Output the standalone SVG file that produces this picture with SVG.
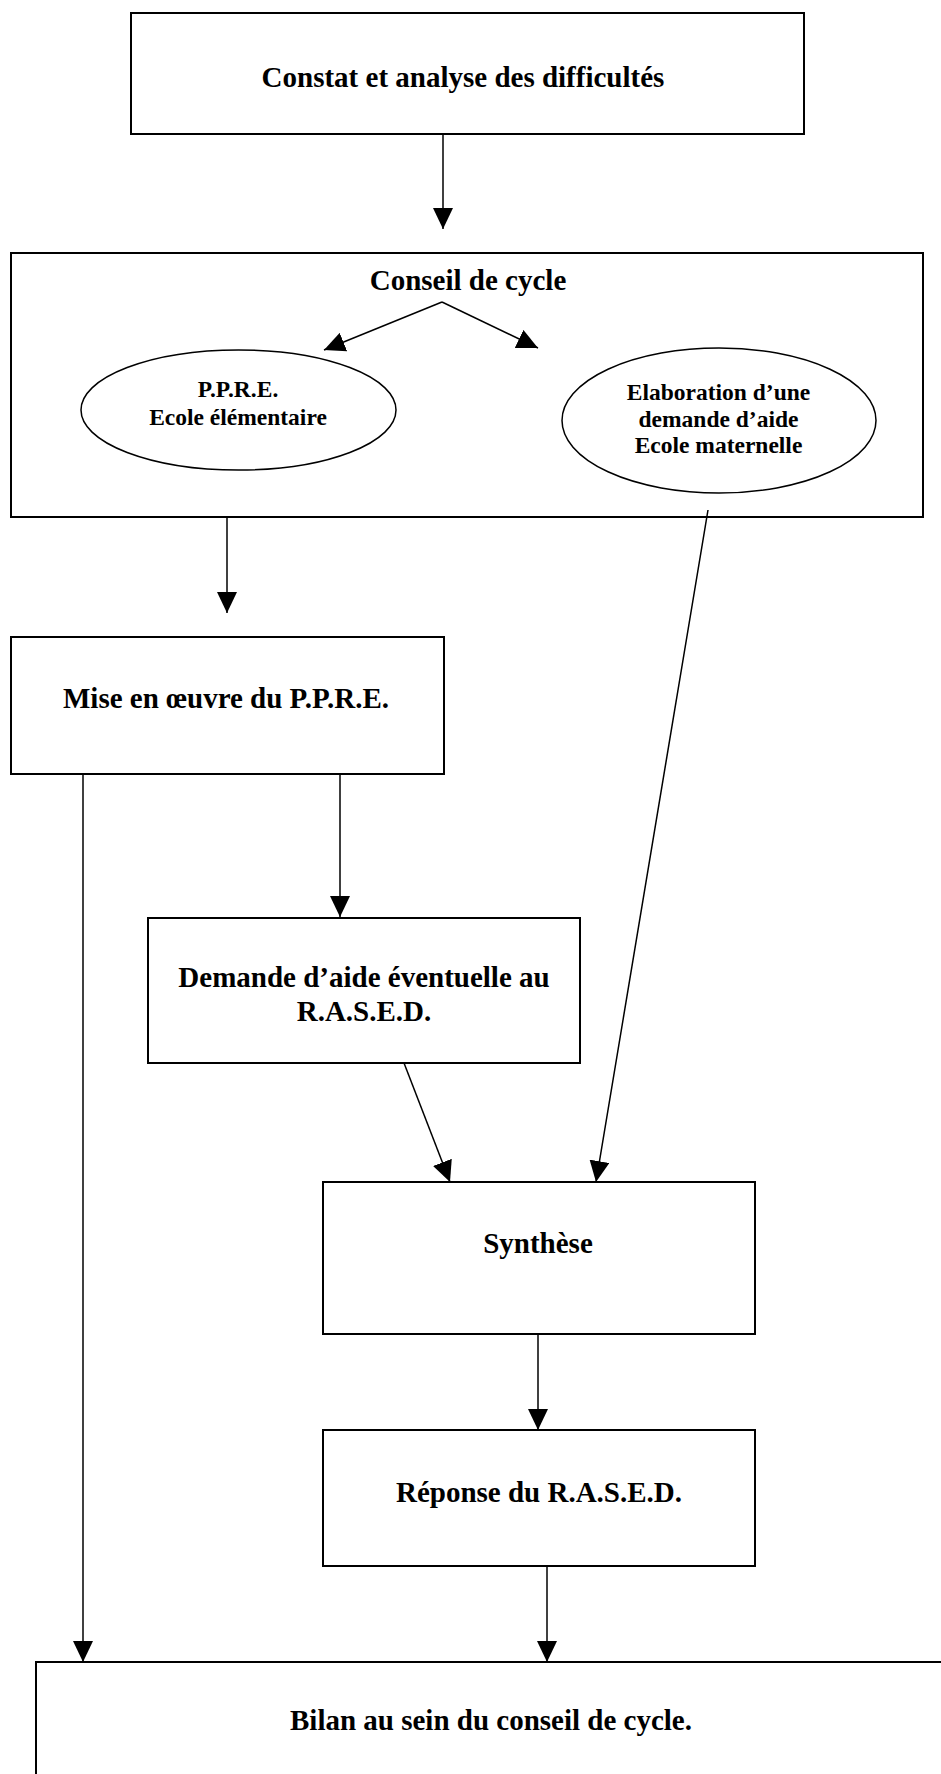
<svg xmlns="http://www.w3.org/2000/svg" width="941" height="1774" viewBox="0 0 941 1774">
  <style>
    .box { fill: #ffffff; stroke: #000000; stroke-width: 2; }
    .ell { fill: #ffffff; stroke: #000000; stroke-width: 1.5; }
    .lbl { font-family: "Liberation Serif", "Times New Roman", serif; font-weight: bold; font-size: 29px; fill: #000000; text-anchor: middle; }
    .sm { font-size: 23.5px; }
    .conn { fill: none; stroke: #000000; stroke-width: 1.5; marker-end: url(#arrow); }
  </style>
  <defs>
    <marker id="arrow" markerUnits="userSpaceOnUse" markerWidth="22" markerHeight="20" refX="21" refY="10" orient="auto">
      <path d="M0,0 L21,10 L0,20 z" fill="#000000"/>
    </marker>
  </defs>
  <rect width="941" height="1774" fill="#ffffff"/>

  <g id="n-constat">
    <rect class="box" x="131" y="13" width="673" height="121"/>
    <text class="lbl" x="463" y="87">Constat et analyse des difficultés</text>
  </g>

  <g id="n-conseil">
    <rect class="box" x="11" y="253" width="912" height="264"/>
    <text class="lbl" x="468" y="290">Conseil de cycle</text>
  </g>

  <g id="n-ppre">
    <ellipse class="ell" cx="238.5" cy="410" rx="157.5" ry="60"/>
    <text class="lbl sm" x="238" y="397">P.P.R.E.</text>
    <text class="lbl sm" x="238" y="425">Ecole élémentaire</text>
  </g>

  <g id="n-elaboration">
    <ellipse class="ell" cx="719" cy="420.5" rx="157" ry="72.5"/>
    <text class="lbl sm" x="718.5" y="400">Elaboration d’une</text>
    <text class="lbl sm" x="718.5" y="426.5">demande d’aide</text>
    <text class="lbl sm" x="718.5" y="453">Ecole maternelle</text>
  </g>

  <g id="n-mise">
    <rect class="box" x="11" y="637" width="433" height="137"/>
    <text class="lbl" x="226" y="708">Mise en œuvre du P.P.R.E.</text>
  </g>

  <g id="n-demande">
    <rect class="box" x="148" y="918" width="432" height="145"/>
    <text class="lbl" x="364" y="987">Demande d’aide éventuelle au</text>
    <text class="lbl" x="364" y="1021">R.A.S.E.D.</text>
  </g>

  <g id="n-synthese">
    <rect class="box" x="323" y="1182" width="432" height="152"/>
    <text class="lbl" x="538" y="1253">Synthèse</text>
  </g>

  <g id="n-reponse">
    <rect class="box" x="323" y="1430" width="432" height="136"/>
    <text class="lbl" x="539" y="1502">Réponse du R.A.S.E.D.</text>
  </g>

  <g id="n-bilan">
    <rect class="box" x="36" y="1662" width="1000" height="200"/>
    <text class="lbl" x="491" y="1730">Bilan au sein du conseil de cycle.</text>
  </g>

  <g id="connectors">
    <line class="conn" x1="443" y1="134" x2="443" y2="229"/>
    <line class="conn" x1="442" y1="302" x2="324" y2="350"/>
    <line class="conn" x1="442" y1="302" x2="538" y2="348"/>
    <line class="conn" x1="227" y1="517" x2="227" y2="613"/>
    <line class="conn" x1="708" y1="510" x2="596" y2="1182"/>
    <line class="conn" x1="83" y1="774" x2="83" y2="1662"/>
    <line class="conn" x1="340" y1="774" x2="340" y2="917"/>
    <line class="conn" x1="404" y1="1063" x2="450" y2="1182"/>
    <line class="conn" x1="538" y1="1334" x2="538" y2="1430"/>
    <line class="conn" x1="547" y1="1566" x2="547" y2="1662"/>
  </g>
</svg>
